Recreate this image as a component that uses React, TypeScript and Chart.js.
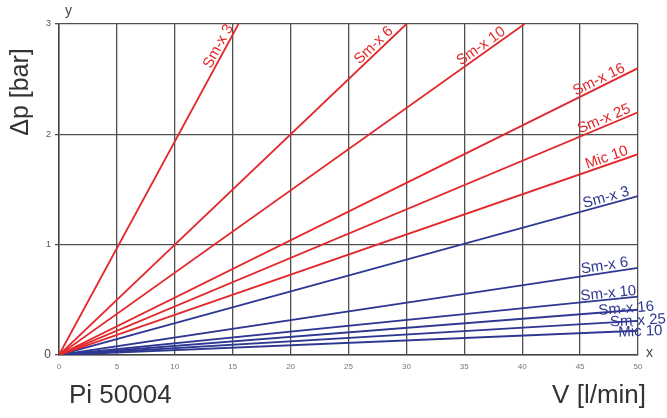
import React, { useEffect, useRef } from "react";
import { Chart, registerables } from "chart.js";

Chart.register(...registerables);

// Data (straight lines through the origin)
const redNames = ["Sm-x 3", "Sm-x 6", "Sm-x 10", "Sm-x 16", "Sm-x 25", "Mic 10"];
const redEndX = [15.5, 30, 40.2, 50, 50, 50];
const redEndY = [3, 3, 3, 2.6, 2.2, 1.82];

const blueNames = ["Sm-x 3", "Sm-x 6", "Sm-x 10", "Sm-x 16", "Sm-x 25", "Mic 10"];
const blueEndX = [50, 50, 50, 50, 50, 50];
const blueEndY = [1.44, 0.79, 0.53, 0.41, 0.31, 0.22];

const xTicks = [0, 5, 10, 15, 20, 25, 30, 35, 40, 45, 50];
const yTicks = [0, 1, 2, 3];

// label placement: x value of anchor on the line, perpendicular offset in px
const redLabelX = [14.3, 27.6, 36.8, 46.9, 47.3, 47.5];
const redLabelOff = [7, 7, 7, 7, 7, 7];
const blueLabelX = [47.4, 47.2, 47.5, 49.0, 50.0, 50.2];
const blueLabelOff = [7, 7, 6, 2, 0, -1];

const RED = "#e3282c";
const BLUE = "#2e3892";
const FONT = 'Arial, "Liberation Sans", sans-serif';

export default function App() {
  const ref = useRef<HTMLCanvasElement | null>(null);

  useEffect(() => {
    if (!ref.current) return;
    const mk = (names: string[], ex: number[], ey: number[], color: string) =>
      names.map((n, i) => ({
        label: n,
        data: [
          { x: 0, y: 0 },
          { x: ex[i], y: ey[i] },
        ],
        borderColor: color,
        backgroundColor: color,
        borderWidth: 1.8,
        pointRadius: 0,
        fill: false,
        tension: 0,
      }));

    const labelPlugin = {
      id: "lineLabels",
      afterDraw(chart: any) {
        const ctx = chart.ctx as CanvasRenderingContext2D;
        const xs = chart.scales.x;
        const ys = chart.scales.y;
        const drawSet = (
          names: string[],
          ex: number[],
          ey: number[],
          lx: number[],
          off: number[],
          color: string
        ) => {
          names.forEach((n, i) => {
            const slope = ey[i] / ex[i];
            const x0 = xs.getPixelForValue(0);
            const y0 = ys.getPixelForValue(0);
            const x1 = xs.getPixelForValue(ex[i]);
            const y1 = ys.getPixelForValue(ey[i]);
            const ang = Math.atan2(y1 - y0, x1 - x0);
            const px = xs.getPixelForValue(lx[i]);
            const py = ys.getPixelForValue(lx[i] * slope);
            ctx.save();
            ctx.translate(px, py);
            ctx.rotate(ang);
            ctx.fillStyle = color;
            ctx.font = `15px ${FONT}`;
            ctx.textAlign = "center";
            ctx.textBaseline = "middle";
            ctx.fillText(n, 0, -off[i]);
            ctx.restore();
          });
        };
        drawSet(redNames, redEndX, redEndY, redLabelX, redLabelOff, RED);
        drawSet(blueNames, blueEndX, blueEndY, blueLabelX, blueLabelOff, BLUE);

        ctx.save();
        ctx.fillStyle = "#333";
        ctx.font = `26px ${FONT}`;
        ctx.textBaseline = "alphabetic";
        ctx.textAlign = "left";
        ctx.fillText("Pi 50004", 69, 403);
        ctx.textAlign = "right";
        ctx.fillText("V [l/min]", 646, 403);
        ctx.save();
        ctx.translate(28, 92);
        ctx.rotate(-Math.PI / 2);
        ctx.textAlign = "center";
        ctx.font = `25px ${FONT}`;
        ctx.fillText("Δp [bar]", 0, 0);
        ctx.restore();
        ctx.font = `14px ${FONT}`;
        ctx.fillStyle = "#444";
        ctx.textAlign = "left";
        ctx.fillText("y", 65, 15);
        ctx.fillText("x", 646, 357);
        ctx.restore();
      },
    };

    const chart = new Chart(ref.current, {
      type: "line",
      data: {
        datasets: [
          ...mk(redNames, redEndX, redEndY, RED),
          ...mk(blueNames, blueEndX, blueEndY, BLUE),
        ] as any,
      },
      options: {
        animation: false,
        responsive: false,
        maintainAspectRatio: false,
        layout: { padding: { left: 0, top: 24, right: 29, bottom: 0 } },
        plugins: {
          legend: { display: false },
          tooltip: { enabled: false },
        },
        scales: {
          x: {
            type: "linear",
            min: 0,
            max: 50,
            afterBuildTicks: (s: any) => {
              s.ticks = xTicks.map((v) => ({ value: v }));
            },
            afterFit: (s: any) => {
              s.height = 63;
            },
            grid: {
              color: "#505050",
              lineWidth: 1.3,
              drawTicks: false,
            },
            border: { color: "#444", width: 1.5 },
            ticks: {
              color: "#777",
              font: { size: 8, family: FONT },
              padding: 7,
              maxRotation: 0,
              autoSkip: false,
            },
          },
          y: {
            type: "linear",
            min: 0,
            max: 3,
            afterBuildTicks: (s: any) => {
              s.ticks = yTicks.map((v) => ({ value: v }));
            },
            afterFit: (s: any) => {
              s.width = 59;
            },
            grid: {
              color: "#505050",
              lineWidth: 1.3,
              tickLength: 4,
              drawTicks: true,
            },
            border: { color: "#444", width: 1.5 },
            ticks: {
              color: (c: any) => (c.tick && c.tick.value === 0 ? "#444" : "#555"),
              font: (c: any) =>
                c.tick && c.tick.value === 0
                  ? { size: 12, family: FONT }
                  : { size: 9, family: FONT },
              padding: 4,
              autoSkip: false,
            },
          },
        },
      },
      plugins: [labelPlugin],
    } as any);

    return () => chart.destroy();
  }, []);

  return (
    <div style={{ position: "fixed", left: 0, top: 0, width: 667, height: 418, background: "#fff" }}>
      <canvas ref={ref} width={667} height={418} style={{ width: 667, height: 418, display: "block" }} />
    </div>
  );
}
